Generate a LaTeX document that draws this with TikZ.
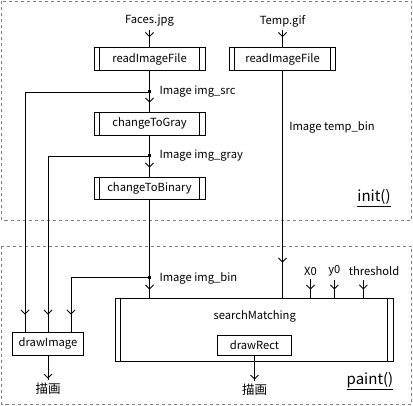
\documentclass[tikz,border=0pt]{standalone}
\usepackage{fontspec}
\setmainfont{Noto Sans CJK JP}
\usetikzlibrary{arrows.meta,decorations.markings,positioning}
\definecolor{framegray}{RGB}{128,128,128}

\begin{document}
\begin{tikzpicture}[x=1pt,y=-1pt,font=\fontsize{11.2}{13}\selectfont,
  procbox/.style={draw,line width=0.9pt,minimum width=111pt,minimum height=23pt,inner sep=0pt},
  plainbox/.style={draw,line width=0.9pt,inner sep=0pt},
  flow/.style={line width=0.9pt},
  tipat/.style={postaction={decorate},decoration={markings,
    mark=at position -#1 with {\arrow{Straight Barb[length=4pt,width=8pt]}}}},
  dot/.style={fill,inner sep=0pt,minimum size=3pt},
  frame/.style={framegray,line width=1.1pt,dash pattern=on 3pt off 3pt}]

\useasboundingbox (0,0) rectangle (413,406);

%% -- frames --
\draw[frame] (1.5,1.5) rectangle (411.5,220.5);
\draw[frame] (1.5,246.5) rectangle (411.5,404.5);

\node[font=\fontsize{15}{17}\selectfont] (initlbl) at (374,198) {\underline{init()}};
\node[font=\fontsize{15}{17}\selectfont] (paintlbl) at (370,381) {\underline{paint()}};

%% -- left column: Faces.jpg --
\node (faces) at (149.5,21) {Faces.jpg};
\node[procbox] (readA) at (149.5,59) {readImageFile};
\coordinate (j1) at (149.5,92);
\node[anchor=west] (srclbl) at (156,92) {Image img\_src};
\node[procbox] (gray) at (149.5,123.5) {changeToGray};
\coordinate (j2) at (149.5,156);
\node[anchor=west] (graylbl) at (156,156) {Image img\_gray};
\node[procbox,minimum height=22pt] (binary) at (149.5,188) {changeToBinary};
\coordinate (j3) at (149.5,277.5);
\node[anchor=west] (binlbl) at (156,278) {Image img\_bin};

%% -- right column: Temp.gif --
\node (temp) at (282.5,21) {Temp.gif};
\node[procbox,minimum width=106.7pt] (readB) at (282.5,59) {readImageFile};
\node (templbl) at (332,127) {Image temp\_bin};

%% -- paint part --
\node[plainbox,minimum width=70.6pt,minimum height=23pt] (drawimg) at (48,343.5) {drawImage};
\node[draw,line width=0.9pt,minimum width=278pt,minimum height=63pt] (search) at (254.2,329.5) {};
\node (searchlbl) at (254.7,316) {searchMatching};
\node[plainbox,minimum width=74.4pt,minimum height=19.3pt] (drawrect) at (254.5,345.4) {drawRect};
\node[font=\fontsize{12.5}{14}\selectfont] (outA) at (48,389) {描画};
\node[font=\fontsize{12.5}{14}\selectfont] (outB) at (254.5,390) {描画};
\node (x0) at (310.5,271) {X0};
\node (y0) at (334.3,271) {y0};
\node (thr) at (374,271) {threshold};
\coordinate (thrtop) at (363.3,280);

%% -- side bars of the process boxes --
\foreach \n in {readA,gray,binary,readB,search}{
  \draw[flow] ([xshift=6pt]\n.north west) -- ([xshift=6pt]\n.south west)
              ([xshift=-6pt]\n.north east) -- ([xshift=-6pt]\n.south east);}

%% -- connectors --
\draw[flow,tipat=10pt] (faces) -- (readA);
\draw[flow] (readA) -- (j1);
\draw[flow,tipat=9pt] (j1) -- (gray);
\draw[flow,tipat=17pt] (j1) -| ([xshift=-23pt]drawimg.north);
\draw[flow] (gray) -- (j2);
\draw[flow,tipat=9pt] (j2) -- (binary);
\draw[flow,tipat=17pt] (j2) -| (drawimg.north);
\draw[flow] (binary) -- (j3);
\draw[flow,tipat=8pt] (j3) -- (j3 |- search.north);
\draw[flow,tipat=17pt] (j3) -| ([xshift=23pt]drawimg.north);
\draw[flow,tipat=10pt] (temp) -- (readB);
\draw[flow,tipat=35pt] (readB) -- (readB |- search.north);
\foreach \n in {x0,y0}
  \draw[flow,tipat=8pt] (\n) -- (\n |- search.north);
\draw[flow,tipat=8pt] (thrtop) -- (thrtop |- search.north);
\draw[flow,tipat=1pt] (drawimg) -- (outA);
\draw[flow,tipat=1pt] (drawrect) -- (outB);

\foreach \j in {j1,j2,j3}
  \node[dot] at (\j) {};

\end{tikzpicture}
\end{document}
